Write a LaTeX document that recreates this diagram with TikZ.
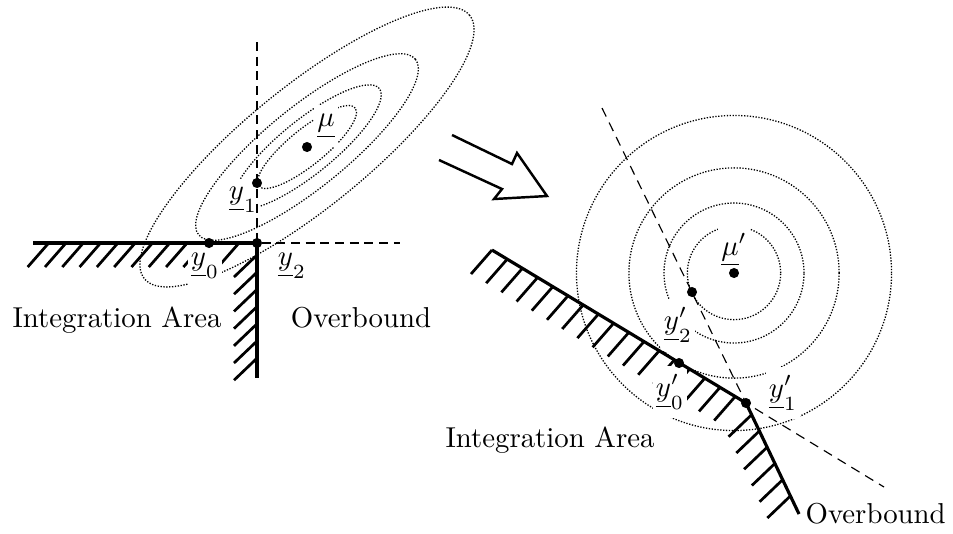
\documentclass[tikz,border=0pt]{standalone}
\usetikzlibrary{calc}
\begin{document}
\begin{tikzpicture}[x=0.3472pt, y=-0.3472pt,
  bound/.style={line width=1.1pt},
  hatch/.style={line width=0.95pt},
  guideL/.style={line width=0.4pt, dash pattern=on 3.1pt off 2.0pt},
  guideR/.style={line width=0.4pt, dash pattern=on 3.3pt off 2.3pt},
  contour/.style={line width=0.45pt, dash pattern=on 0.45pt off 0.55pt},
  dotpt/.style={circle, fill=black, inner sep=0pt, minimum size=3.5pt},
  lab/.style={fill=white, inner xsep=1pt, inner ysep=3pt},
  txt/.style={inner sep=0pt, anchor=base},
  bigarrow/.style={line width=0.85pt, line join=miter}]
\useasboundingbox (0,0) rectangle (953,533);

% ---------------- left picture ----------------
\coordinate (Lh0) at (33,243);
\coordinate (Lc) at (257,243);
\coordinate (Lv1) at (257,378);
\coordinate (Lmu) at (307,147);
\coordinate (Ly1) at (257,183);
\coordinate (Ly0) at (209,243);
\coordinate (Ldv) at (257,42);
\coordinate (Ldh) at (400,243);

\foreach \a/\b in {21.53/6.25, 32.29/9.37, 48.43/14.06, 72.65/21.1}
  \draw[contour, rotate around={39:(Lmu)}] (Lmu) ellipse [x radius=\a pt, y radius=\b pt];

\foreach \k in {0,...,11}
  \draw[hatch] ($(Lh0)!{(15.7+17.3*\k)/224}!(Lc)$) -- ++(-21,24);
\foreach \k in {0,...,6}
  \draw[hatch] ($(Lc)!{(12+17.2*\k)/135}!(Lv1)$) -- ++(-23,22);

\node[lab] (lmu) at (326,126) {$\underline{\mu}$};
\node[lab] (ly1) at (243,200) {$\underline{y}_1$};
\node[lab] (ly0) at (205,266) {$\underline{y}_0$};
\node[lab] (ly2) at (292,266) {$\underline{y}_2$};

\draw[guideL] (Ldv) -- (Lc) -- (Ldh);
\draw[bound] (Lh0) -- (Lc) -- (Lv1);

\node[dotpt] (pmu) at (Lmu) {};
\node[dotpt] (py1) at (Ly1) {};
\node[dotpt] (py0) at (Ly0) {};
\node[dotpt] (py2) at (Lc) {};

\node[txt] (ia1) at (117,327) {Integration Area};
\node[txt] (ob1) at (361,327) {Overbound};

% ---------------- arrow ----------------
\draw[bigarrow] (452,135) -- (512,164) -- (517,153) -- (547,196) -- (494,199) -- (502,189) -- (439,160);

% ---------------- right picture ----------------
\coordinate (R1s) at (492,250);
\coordinate (Ry1) at (746,403);
\coordinate (R2e) at (799,514);
\coordinate (Rmu) at (734,273);
\coordinate (Ry2) at (692,292);
\coordinate (Ry0) at (679,363);
\coordinate (Rd1) at (602,108);
\coordinate (Rd2) at (884,487);

\foreach \r in {16.2, 24.3, 36.5, 54.7}
  \draw[contour] (Rmu) circle (\r pt);

\foreach \k in {0,...,16}
  \draw[hatch] ($(R1s)!{17.75*\k/296.6}!(Ry1)$) -- ++(-21,24);
\foreach \k in {0,...,5}
  \draw[hatch] ($(Ry1)!{(13+18*\k)/123}!(R2e)$) -- ++(-23,22);

\node[lab] (rmu) at (734,250) {$\underline{\mu}'$};
\node[lab] (ry2) at (678,325) {$\underline{y}_2'$};
\node[lab] (ry0) at (670,392) {$\underline{y}_0'$};
\node[lab] (ry1) at (783,393) {$\underline{y}_1'$};

\draw[guideR] (Rd1) -- (Ry1) -- (Rd2);
\draw[bound] (R1s) -- (Ry1) -- (R2e);

\node[dotpt] (qmu) at (Rmu) {};
\node[dotpt] (qy2) at (Ry2) {};
\node[dotpt] (qy0) at (Ry0) {};
\node[dotpt] (qy1) at (Ry1) {};

\node[txt] (ia2) at (550,447) {Integration Area};
\node[txt, anchor=base west] (ob2) at (805,523) {Overbound};
\end{tikzpicture}
\end{document}
